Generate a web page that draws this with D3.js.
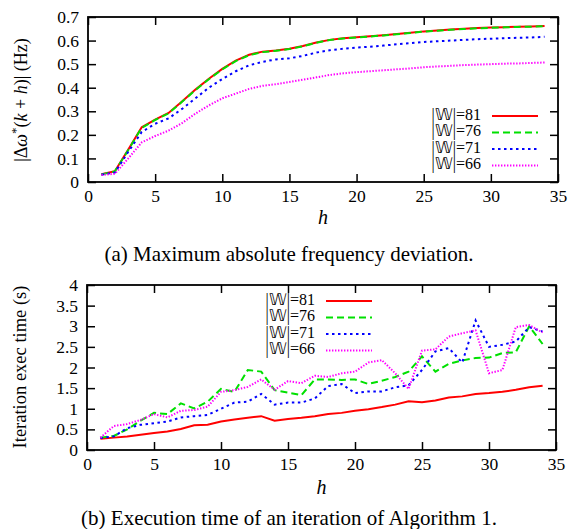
<!DOCTYPE html>
<html>
<head>
<meta charset="utf-8">
<script src="https://cdn.jsdelivr.net/npm/d3@7"></script>
<style>
  body { margin: 0; background: #fff; }
  text { font-family: "Liberation Serif", "Times New Roman", serif; fill: #000; }
</style>
</head>
<body>
<div id="chart"></div>
<script>
// ---------- data ----------
const steps = d3.range(1, 35); // h = 1..34
const sizes = ["81", "76", "71", "66"];

// (a) max absolute frequency deviation (Hz)
const dev81 = [0.033, 0.046, 0.138, 0.232, 0.265, 0.293, 0.342, 0.392, 0.438, 0.48, 0.515, 0.54, 0.553, 0.558, 0.565, 0.577, 0.592, 0.603, 0.61, 0.614, 0.618, 0.623, 0.628, 0.633, 0.639, 0.643, 0.647, 0.65, 0.653, 0.655, 0.657, 0.659, 0.66, 0.662];
const dev76 = [0.032, 0.045, 0.136, 0.23, 0.263, 0.291, 0.34, 0.39, 0.436, 0.478, 0.513, 0.538, 0.551, 0.557, 0.564, 0.576, 0.591, 0.602, 0.609, 0.613, 0.617, 0.622, 0.627, 0.632, 0.638, 0.642, 0.646, 0.649, 0.652, 0.654, 0.656, 0.658, 0.659, 0.661];
const dev71 = [0.031, 0.04, 0.128, 0.212, 0.247, 0.27, 0.31, 0.355, 0.4, 0.437, 0.47, 0.495, 0.51, 0.52, 0.525, 0.535, 0.549, 0.559, 0.565, 0.57, 0.574, 0.579, 0.584, 0.589, 0.594, 0.597, 0.6, 0.603, 0.606, 0.608, 0.61, 0.612, 0.613, 0.616];
const dev66 = [0.03, 0.035, 0.1, 0.168, 0.195, 0.218, 0.25, 0.29, 0.325, 0.355, 0.375, 0.395, 0.408, 0.415, 0.424, 0.434, 0.444, 0.454, 0.461, 0.466, 0.47, 0.474, 0.478, 0.482, 0.487, 0.49, 0.493, 0.496, 0.498, 0.5, 0.502, 0.503, 0.505, 0.507];

// (b) iteration execution time (s)
const time81 = [0.27, 0.3, 0.33, 0.37, 0.41, 0.45, 0.51, 0.6, 0.61, 0.69, 0.74, 0.78, 0.82, 0.71, 0.75, 0.78, 0.82, 0.87, 0.9, 0.95, 0.99, 1.04, 1.1, 1.18, 1.16, 1.2, 1.27, 1.3, 1.36, 1.38, 1.41, 1.46, 1.52, 1.56];
const time76 = [0.3, 0.34, 0.5, 0.71, 0.9, 0.87, 1.13, 1.01, 1.17, 1.48, 1.41, 1.94, 1.9, 1.45, 1.39, 1.33, 1.71, 1.71, 1.7, 1.71, 1.6, 1.68, 1.77, 1.9, 2.27, 1.9, 2.09, 2.17, 2.23, 2.24, 2.35, 2.37, 3.0, 2.57];
const time71 = [0.29, 0.33, 0.53, 0.61, 0.65, 0.69, 0.79, 0.82, 0.85, 1.0, 1.15, 1.17, 1.36, 1.1, 1.15, 1.15, 1.25, 1.55, 1.6, 1.38, 1.42, 1.42, 1.52, 1.57, 1.94, 2.39, 2.47, 2.12, 3.14, 2.5, 2.55, 2.63, 2.98, 2.87];
const time66 = [0.3, 0.58, 0.63, 0.73, 0.87, 0.79, 0.95, 0.97, 1.05, 1.41, 1.45, 1.53, 1.71, 1.46, 1.67, 1.62, 1.8, 1.77, 1.86, 1.9, 2.12, 2.18, 1.86, 1.48, 2.41, 2.44, 2.75, 2.83, 2.9, 1.86, 1.94, 2.98, 3.03, 2.85];

const xTicks = d3.range(0, 36, 5);
const devTicks = d3.range(0, 0.71, 0.1);
const timeTicks = d3.range(0, 4.01, 0.5);

// ---------- styles ----------
const colors = ["#ff0000", "#00e000", "#0000ff", "#ff00ff"];
const dashes = [null, "7,4", "2.5,3.5", "1.4,1.6"];

const width = 574;
const height = 529;

const svg = d3.select("#chart")
  .append("svg")
    .attr("width", width)
    .attr("height", height);

const line = (x, y) => d3.line()
  .x((d, i) => x(steps[i]))
  .y(d => y(d));

const drawPanel = (cfg) => {
  const x = d3.scaleLinear().domain([0, 35]).range([cfg.left, cfg.right]);
  const y = d3.scaleLinear().domain(cfg.yDomain).range([cfg.bottom, cfg.top]);
  const g = svg.append("g");

  // ticks mirrored on all four sides, pointing inwards
  const tick = 8;
  g.append("g")
      .attr("transform", `translate(0,${cfg.bottom})`)
      .call(d3.axisBottom(x).tickValues(xTicks).tickSizeInner(-tick).tickSizeOuter(0).tickPadding(8))
      .call(a => a.select(".domain").remove());
  g.append("g")
      .attr("transform", `translate(0,${cfg.top})`)
      .call(d3.axisTop(x).tickValues(xTicks).tickSizeInner(-tick).tickSizeOuter(0).tickFormat(""))
      .call(a => a.select(".domain").remove());
  g.append("g")
      .attr("transform", `translate(${cfg.left},0)`)
      .call(d3.axisLeft(y).tickValues(cfg.yTicks).tickSizeInner(-tick).tickSizeOuter(0).tickPadding(9).tickFormat(d3.format("~g")))
      .call(a => a.select(".domain").remove());
  g.append("g")
      .attr("transform", `translate(${cfg.right},0)`)
      .call(d3.axisRight(y).tickValues(cfg.yTicks).tickSizeInner(-tick).tickSizeOuter(0).tickFormat(""))
      .call(a => a.select(".domain").remove());

  g.selectAll(".tick line").attr("stroke", "#000").attr("stroke-width", 1.5);
  g.selectAll(".tick text")
      .style("font-family", '"Liberation Serif", serif')
      .style("font-size", "17.5px")
      .attr("fill", "#000");

  // series
  cfg.series.forEach((values, i) => {
    g.append("path")
        .attr("d", line(x, y)(values))
        .attr("fill", "none")
        .attr("stroke", colors[i])
        .attr("stroke-width", 2)
        .attr("stroke-dasharray", dashes[i]);
  });

  // frame
  g.append("rect")
      .attr("x", cfg.left)
      .attr("y", cfg.top)
      .attr("width", cfg.right - cfg.left)
      .attr("height", cfg.bottom - cfg.top)
      .attr("fill", "none")
      .attr("stroke", "#000")
      .attr("stroke-width", 1.8);

  // legend
  sizes.forEach((s, i) => {
    const ly = cfg.legendY + i * 16.5;
    g.append("text")
        .attr("x", cfg.legendX)
        .attr("y", ly)
        .attr("text-anchor", "end")
        .attr("dominant-baseline", "middle")
        .style("font-size", "16px")
        .text("|\u{1D54E}|=" + s);
    g.append("line")
        .attr("x1", cfg.legendX + 11)
        .attr("x2", cfg.legendX + 57)
        .attr("y1", ly)
        .attr("y2", ly)
        .attr("stroke", colors[i])
        .attr("stroke-width", 2)
        .attr("stroke-dasharray", dashes[i]);
  });

  // x label
  g.append("text")
      .attr("x", (cfg.left + cfg.right) / 2)
      .attr("y", cfg.bottom + cfg.hLabelDy)
      .attr("text-anchor", "middle")
      .style("font-size", "20px")
      .style("font-style", "italic")
      .text("h");

  // caption
  g.append("text")
      .attr("x", 289)
      .attr("y", cfg.bottom + cfg.captionDy)
      .attr("text-anchor", "middle")
      .style("font-size", "21px")
      .text(cfg.caption);

  return g;
};

// (a)
const gA = drawPanel({
  left: 88, right: 558, top: 17, bottom: 182,
  yDomain: [0, 0.7], yTicks: devTicks,
  series: [dev81, dev76, dev71, dev66],
  legendX: 481, legendY: 116,
  hLabelDy: 42, captionDy: 79,
  caption: "(a) Maximum absolute frequency deviation."
});
const yLabA = gA.append("text")
    .attr("transform", "translate(27,100) rotate(-90)")
    .attr("text-anchor", "middle")
    .style("font-size", "18px");
yLabA.append("tspan").text("|\u0394");
yLabA.append("tspan").text("\u03C9").style("font-style", "italic");
yLabA.append("tspan").text("*").attr("dy", -7).style("font-size", "13px");
yLabA.append("tspan").text("(").attr("dy", 7);
yLabA.append("tspan").text("k").style("font-style", "italic");
yLabA.append("tspan").text(" + ");
yLabA.append("tspan").text("h").style("font-style", "italic");
yLabA.append("tspan").text(")| (Hz)");

// (b)
const gB = drawPanel({
  left: 87, right: 556, top: 285, bottom: 450,
  yDomain: [0, 4], yTicks: timeTicks,
  series: [time81, time76, time71, time66],
  legendX: 315, legendY: 301,
  hLabelDy: 44, captionDy: 75,
  caption: "(b) Execution time of an iteration of Algorithm 1."
});
gB.append("text")
    .attr("transform", "translate(26,367) rotate(-90)")
    .attr("text-anchor", "middle")
    .style("font-size", "18.5px")
    .text("Iteration exec time (s)");
</script>
</body>
</html>
